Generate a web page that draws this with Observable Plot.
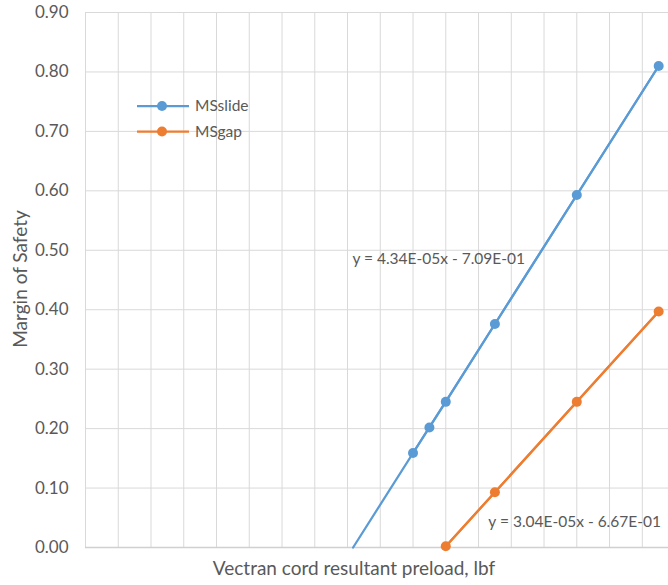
<!DOCTYPE html>
<html><head><meta charset="utf-8">
<script src="https://cdn.jsdelivr.net/npm/d3@7"></script>
<script src="https://cdn.jsdelivr.net/npm/@observablehq/plot@0.6"></script>
<style>
body{margin:0;background:#fff;}
#chart{position:relative;width:668px;height:585px;}
</style>
</head><body><div id="chart"></div>
<script>
// ---- data ----
const seriesNames = ["MSslide", "MSgap"];
const seriesColors = ["#5B9BD5", "#ED7D31"];
const slideX = [20000, 21000, 22000, 25000, 30000, 35000];
const slideY = [0.159, 0.202, 0.245, 0.376, 0.593, 0.810];
const gapX = [22000, 25000, 30000, 35000];
const gapY = [0.002, 0.093, 0.245, 0.397];
// trendline end points (as drawn)
const slideTrendX = [16340, 35000];
const slideTrendY = [0.0, 0.810];
const gapTrendX = [21940, 35000];
const gapTrendY = [0.0, 0.397];
const trendLabels = ["y = 4.34E-05x - 7.09E-01", "y = 3.04E-05x - 6.67E-01"];
const trendLabelX = [16300, 24600];
const trendLabelY = [0.486, 0.0425];
const yTicks = [0.0, 0.1, 0.2, 0.3, 0.4, 0.5, 0.6, 0.7, 0.8, 0.9];
const xGridTicks = [0, 2000, 4000, 6000, 8000, 10000, 12000, 14000, 16000, 18000, 20000, 22000, 24000, 26000, 28000, 30000, 32000, 34000];
const xTitle = "Vectran cord resultant preload, lbf";
const yTitle = "Margin of Safety";

const slide = slideX.map((x, i) => ({x, y: slideY[i]}));
const gap = gapX.map((x, i) => ({x, y: gapY[i]}));
const slideTrend = slideTrendX.map((x, i) => ({x, y: slideTrendY[i]}));
const gapTrend = gapTrendX.map((x, i) => ({x, y: gapTrendY[i]}));
const labels = trendLabels.map((t, i) => ({t, x: trendLabelX[i], y: trendLabelY[i]}));

const FONT = "Lato, 'Open Sans', sans-serif";
const GREY = "#595959";

const chart = Plot.plot({
  width: 668,
  height: 585,
  marginLeft: 85,
  marginRight: 0,
  marginTop: 12,
  marginBottom: 38,
  style: {fontFamily: FONT, fontSize: "16px", color: GREY, background: "#fff"},
  x: {domain: [0, 35600], axis: null},
  y: {domain: [0, 0.9], axis: null},
  marks: [
    Plot.gridX(xGridTicks, {stroke: "#d9d9d9", strokeOpacity: 1, strokeWidth: 1}),
    Plot.gridY(yTicks, {stroke: "#d9d9d9", strokeOpacity: 1, strokeWidth: 1}),
    Plot.ruleY([0], {stroke: "#d0d0d0", strokeWidth: 1.5}),
    Plot.axisY(yTicks, {tickSize: 0, tickPadding: 17, tickFormat: d3.format(".2f"), label: null, fill: GREY, fontSize: 17}),
    Plot.line(slideTrend, {x: "x", y: "y", stroke: seriesColors[0], strokeWidth: 2.25}),
    Plot.line(gapTrend, {x: "x", y: "y", stroke: seriesColors[1], strokeWidth: 2.25}),
    Plot.line(slide, {x: "x", y: "y", stroke: seriesColors[0], strokeWidth: 2.25}),
    Plot.line(gap, {x: "x", y: "y", stroke: seriesColors[1], strokeWidth: 2.25}),
    Plot.dot(slide, {x: "x", y: "y", r: 5, fill: seriesColors[0]}),
    Plot.dot(gap, {x: "x", y: "y", r: 5, fill: seriesColors[1]}),
    Plot.text(labels, {x: "x", y: "y", text: "t", textAnchor: "start", fill: GREY, fontSize: 15.5}),
    Plot.text([xTitle], {frameAnchor: "bottom", textAnchor: "middle", dx: -23, dy: 27, fill: GREY, fontSize: 19}),
    Plot.text([yTitle], {frameAnchor: "left", textAnchor: "middle", lineAnchor: "middle", dx: -65, dy: -1, rotate: -90, fill: GREY, fontSize: 19})
  ]
});
document.getElementById("chart").appendChild(chart);

// legend inside the plot area
const svg = d3.select(chart);
const lg = svg.append("g").attr("font-family", FONT).attr("font-size", 15.5).attr("fill", GREY).attr("text-anchor", "start");
seriesNames.forEach((name, i) => {
  const yy = 106 + i * 25.5;
  lg.append("line").attr("x1", 137).attr("x2", 189).attr("y1", yy).attr("y2", yy)
    .attr("stroke", seriesColors[i]).attr("stroke-width", 2.25);
  lg.append("circle").attr("cx", 162).attr("cy", yy).attr("r", 5).attr("fill", seriesColors[i]);
  lg.append("text").attr("x", 195).attr("y", yy).attr("dy", "0.35em").attr("text-anchor", "start").text(name);
});
</script>
</body></html>
